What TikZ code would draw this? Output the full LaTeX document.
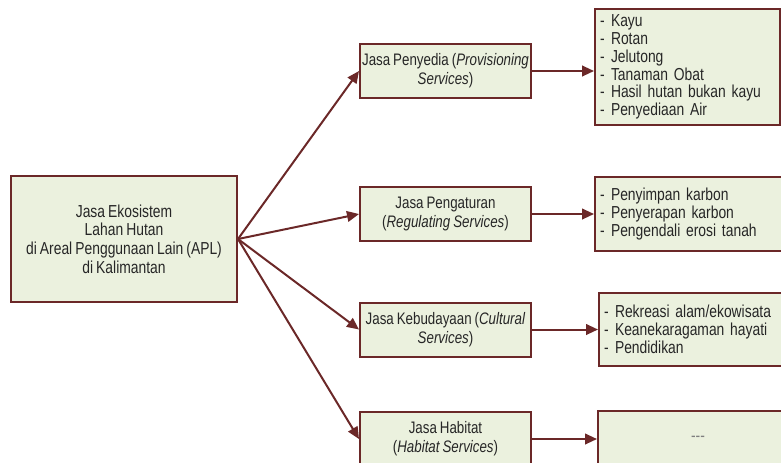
\documentclass[tikz,border=0pt]{standalone}
\usepackage{fontspec}
\setmainfont{Liberation Sans}[FakeStretch=0.8,WordSpace=0.8]
\usetikzlibrary{arrows.meta}
\definecolor{edge}{HTML}{6B2828}
\definecolor{boxfill}{HTML}{EBF1DE}
\definecolor{txt}{HTML}{262626}
\definecolor{dashgray}{HTML}{7F7F7F}
\newcommand{\itm}[1]{\makebox[8.25pt][l]{-}#1}
\begin{document}
\begin{tikzpicture}[x=0.75pt,y=-0.75pt,
 box/.style={draw=edge, fill=boxfill, line width=1.5pt, inner sep=0pt, align=center, text=txt, font=\fontsize{13}{14}\selectfont},
 midbox/.style={box, minimum width=128.25pt, minimum height=40.5pt, font=\fontsize{12.5}{14}\selectfont},
 listbox/.style={box, align=left, inner xsep=3.75pt, anchor=west, font=\fontsize{13}{13.4}\selectfont},
 arr/.style={draw=edge, line width=1.5pt, -{Triangle[length=9pt,width=8pt]}}]
\useasboundingbox (0,0) rectangle (781,462);
\node[box, minimum width=169.5pt, minimum height=94.5pt] (lbox) at (124,239)
  {Jasa Ekosistem\\Lahan Hutan\\di Areal Penggunaan Lain (APL)\\di Kalimantan};
\node[midbox] (b1) at (445.5,71)
  {Jasa Penyedia (\textit{Provisioning}\\\textit{Services})};
\node[midbox] (b2) at (445.5,214)
  {Jasa Pengaturan\\(\textit{Regulating Services})};
\node[midbox] (b3) at (445.5,329.5)
  {Jasa Kebudayaan (\textit{Cultural}\\\textit{Services})};
\node[midbox] (b4) at (445.5,439)
  {Jasa Habitat\\(\textit{Habitat Services})};
\node[listbox, text width=131.25pt, minimum height=87pt] (l1) at (594,67)
  {\itm{Kayu}\\\itm{Rotan}\\\itm{Jelutong}\\\itm{Tanaman Obat}\\\itm{Hasil hutan bukan kayu}\\\itm{Penyediaan Air}};
\node[listbox, text width=139.5pt, minimum height=55.5pt] (l2) at (594,214)
  {\itm{Penyimpan karbon}\\\itm{Penyerapan karbon}\\\itm{Pengendali erosi tanah}};
\node[listbox, text width=136.5pt, minimum height=54.75pt] (l3) at (598,329.5)
  {\itm{Rekreasi alam/ekowisata}\\\itm{Keanekaragaman hayati}\\\itm{Pendidikan}};
\node[box, minimum width=150pt, minimum height=42pt, text=dashgray] (l4) at (698,439) {-{}-{}-};
\foreach \b in {b1,b2,b3,b4} \draw[arr] (lbox.east) -- (\b.west);
\draw[arr] (b1.east) -- (b1.east -| l1.west);
\draw[arr] (b2.east) -- (b2.east -| l2.west);
\draw[arr] (b3.east) -- (b3.east -| l3.west);
\draw[arr] (b4.east) -- (b4.east -| l4.west);
\end{tikzpicture}
\end{document}
